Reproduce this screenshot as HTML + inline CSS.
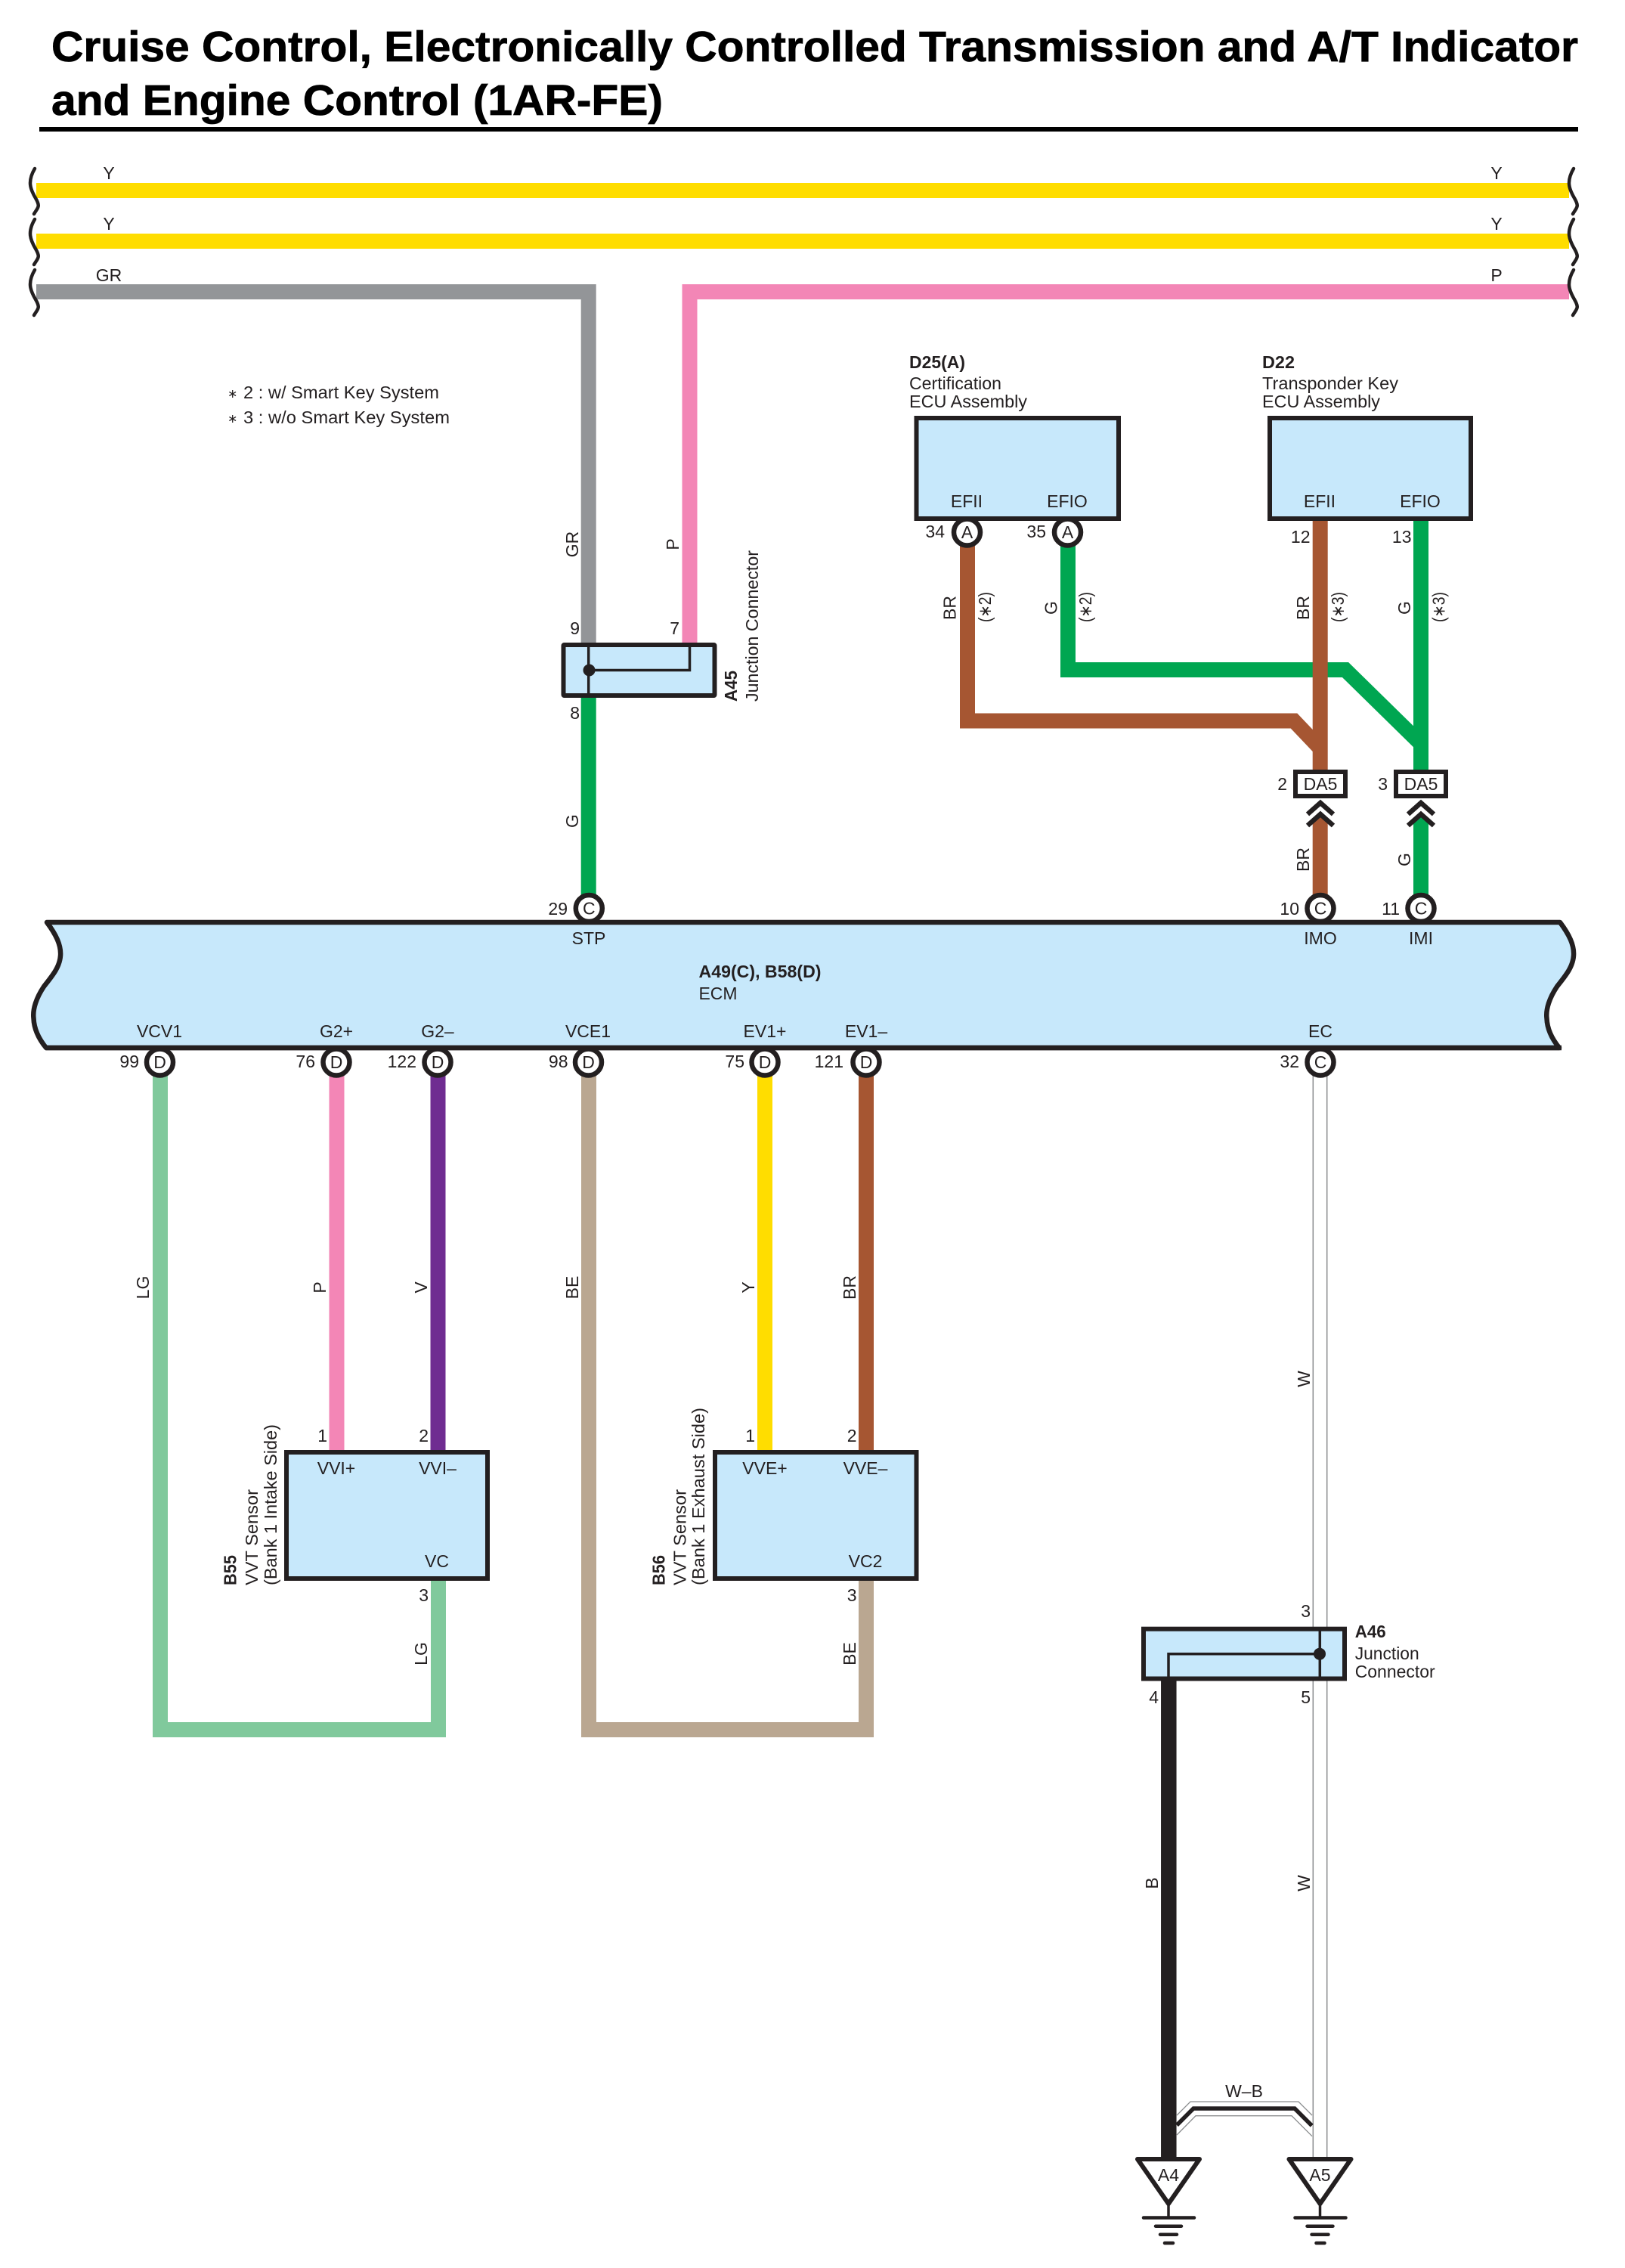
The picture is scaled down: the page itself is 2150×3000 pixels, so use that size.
<!DOCTYPE html>
<html><head><meta charset="utf-8"><title>Cruise Control Wiring</title>
<style>
html,body{margin:0;padding:0;background:#fff;width:2150px;height:3000px;overflow:hidden}
svg{display:block}
text{font-family:"Liberation Sans",Arial,sans-serif;font-size:23px;fill:#231f20}
.b{font-weight:bold}
.m{text-anchor:middle}
.e{text-anchor:end}
.w{fill:none;stroke-width:20;stroke-linejoin:miter}
.k{fill:none;stroke:#231f20;stroke-linecap:round}
.box{fill:#c7e8fb;stroke:#231f20;stroke-width:6}
.c{fill:#fff;stroke:#231f20;stroke-width:6.5}
</style></head><body>
<svg xmlns="http://www.w3.org/2000/svg" width="2150" height="3000" viewBox="0 0 2150 3000">
<rect width="2150" height="3000" fill="#fff"/>
<!-- title -->
<text x="68" y="81" class="b" style="font-size:57px;fill:#000;stroke:#000;stroke-width:.8" textLength="2020" lengthAdjust="spacingAndGlyphs">Cruise Control, Electronically Controlled Transmission and A/T Indicator</text>
<text x="68" y="152" class="b" style="font-size:57px;fill:#000;stroke:#000;stroke-width:.8" textLength="809" lengthAdjust="spacingAndGlyphs">and Engine Control (1AR-FE)</text>
<rect x="52" y="168" width="2036" height="6" fill="#000"/>

<!-- top wires -->
<path class="w" stroke="#ffdd00" d="M48 252H2076"/>
<path class="w" stroke="#ffdd00" d="M48 319H2076"/>
<path class="w" stroke="#939598" d="M48 386H778.7V853"/>
<path class="w" stroke="#f386b6" d="M2076 386H912.5V853"/>

<!-- break marks -->
<g class="k" stroke-width="4.5">
<path d="M46 223C36 240 40 250 47 262C54 274 50 274 45 283"/>
<path d="M46 290C36 307 40 317 47 329C54 341 50 341 45 350"/>
<path d="M46 357C36 374 40 384 47 396C54 408 50 408 45 417"/>
<path d="M2082 223C2072 240 2076 250 2083 262C2090 274 2086 274 2081 283"/>
<path d="M2082 290C2072 307 2076 317 2083 329C2090 341 2086 341 2081 350"/>
<path d="M2082 357C2072 374 2076 384 2083 396C2090 408 2086 408 2081 417"/>
</g>

<text x="144" y="237" class="m">Y</text>
<text x="144" y="304" class="m">Y</text>
<text x="144" y="372" class="m">GR</text>
<text x="1980" y="237" class="m">Y</text>
<text x="1980" y="304" class="m">Y</text>
<text x="1980" y="372" class="m">P</text>

<text x="301" y="526" style="font-size:16px">∗</text>
<text x="322" y="527" textLength="259" lengthAdjust="spacingAndGlyphs">2 : w/ Smart Key System</text>
<text x="301" y="559" style="font-size:16px">∗</text>
<text x="322" y="560" textLength="273" lengthAdjust="spacingAndGlyphs">3 : w/o Smart Key System</text>

<!-- A45 junction -->
<path class="w" stroke="#00a651" d="M778.7 920V1185"/>
<rect class="box" x="745.5" y="853" width="200" height="67" rx="1"/>
<path fill="none" stroke="#231f20" stroke-width="3.5" d="M778.7 853V920M778.7 886.5H912.5V853"/>
<circle cx="779.5" cy="886.5" r="8" fill="#231f20"/>
<text x="767" y="839" class="e">9</text>
<text x="899" y="839" class="e">7</text>
<text x="767" y="951" class="e">8</text>
<text transform="translate(765,720) rotate(-90)" class="m">GR</text>
<text transform="translate(898,720) rotate(-90)" class="m">P</text>
<text transform="translate(765,1086) rotate(-90)" class="m">G</text>
<text transform="translate(975,928) rotate(-90)" class="b" textLength="41" lengthAdjust="spacingAndGlyphs">A45</text>
<text transform="translate(1003,928) rotate(-90)" textLength="200" lengthAdjust="spacingAndGlyphs">Junction Connector</text>

<!-- top right ECUs -->
<text x="1203" y="487" class="b" textLength="74" lengthAdjust="spacingAndGlyphs">D25(A)</text>
<text x="1203" y="515" textLength="122" lengthAdjust="spacingAndGlyphs">Certification</text>
<text x="1203" y="539" textLength="156" lengthAdjust="spacingAndGlyphs">ECU Assembly</text>
<text x="1670" y="487" class="b" textLength="43" lengthAdjust="spacingAndGlyphs">D22</text>
<text x="1670" y="515" textLength="180" lengthAdjust="spacingAndGlyphs">Transponder Key</text>
<text x="1670" y="539" textLength="156" lengthAdjust="spacingAndGlyphs">ECU Assembly</text>

<!-- wires to DA5 -->
<path class="w" stroke="#00a651" d="M1413 722V886H1780L1880 984"/>
<path class="w" stroke="#00a651" d="M1880 688V1020"/>
<path class="w" stroke="#a65632" d="M1280 722V953.5H1712L1746.7 990"/>
<path class="w" stroke="#a65632" d="M1746.7 688V1020"/>
<path fill="#a65632" d="M1736.7 1086L1746.7 1077L1756.7 1086V1185H1736.7Z"/>
<path fill="#00a651" d="M1870 1086L1880 1077L1890 1086V1185H1870Z"/>

<rect class="box" x="1212.5" y="553" width="267.5" height="133"/>
<rect class="box" x="1680" y="553" width="266" height="133"/>
<text x="1279" y="671" class="m">EFII</text>
<text x="1412" y="671" class="m">EFIO</text>
<text x="1746" y="671" class="m">EFII</text>
<text x="1879" y="671" class="m">EFIO</text>
<circle class="c" cx="1279.5" cy="704" r="17.5"/><text x="1279.5" y="712" class="m">A</text>
<circle class="c" cx="1412.5" cy="704" r="17.5"/><text x="1412.5" y="712" class="m">A</text>
<text x="1250" y="711" class="e">34</text>
<text x="1384" y="711" class="e">35</text>
<text x="1733.5" y="718" class="e">12</text>
<text x="1867.5" y="718" class="e">13</text>

<text transform="translate(1264.6,804) rotate(-90)" class="m">BR</text>
<text transform="translate(1311,803) rotate(-90)" class="m" textLength="40" lengthAdjust="spacingAndGlyphs">(∗2)</text>
<text transform="translate(1398.6,804) rotate(-90)" class="m">G</text>
<text transform="translate(1444,803) rotate(-90)" class="m" textLength="40" lengthAdjust="spacingAndGlyphs">(∗2)</text>
<text transform="translate(1732,804) rotate(-90)" class="m">BR</text>
<text transform="translate(1778,803) rotate(-90)" class="m" textLength="40" lengthAdjust="spacingAndGlyphs">(∗3)</text>
<text transform="translate(1866,804) rotate(-90)" class="m">G</text>
<text transform="translate(1911.5,803) rotate(-90)" class="m" textLength="40" lengthAdjust="spacingAndGlyphs">(∗3)</text>
<text transform="translate(1732,1137) rotate(-90)" class="m">BR</text>
<text transform="translate(1866,1137) rotate(-90)" class="m">G</text>

<!-- DA5 connectors -->
<rect x="1714" y="1021" width="66" height="32" fill="#fff" stroke="#231f20" stroke-width="6"/>
<rect x="1847" y="1021" width="66" height="32" fill="#fff" stroke="#231f20" stroke-width="6"/>
<text x="1747" y="1045" class="m">DA5</text>
<text x="1880" y="1045" class="m">DA5</text>
<text x="1703" y="1045" class="e">2</text>
<text x="1836" y="1045" class="e">3</text>
<g fill="none" stroke="#231f20" stroke-width="6.5">
<path d="M1730 1077L1747 1062L1764 1077"/>
<path d="M1730 1092L1747 1077L1764 1092"/>
<path d="M1863 1077L1880 1062L1897 1077"/>
<path d="M1863 1092L1880 1077L1897 1092"/>
</g>

<!-- ECM -->
<circle class="c" cx="779.3" cy="1201.5" r="17.5"/>
<circle class="c" cx="1747" cy="1201.5" r="17.5"/>
<circle class="c" cx="1880" cy="1201.5" r="17.5"/>
<text x="779.3" y="1209.5" class="m">C</text>
<text x="1747" y="1209.5" class="m">C</text>
<text x="1880" y="1209.5" class="m">C</text>
<text x="751" y="1210" class="e">29</text>
<text x="1719" y="1210" class="e">10</text>
<text x="1852" y="1210" class="e">11</text>

<!-- lower wires -->
<path class="w" stroke="#80c99c" d="M212 1420V2288H580V2085"/>
<path class="w" stroke="#f386b6" d="M445.5 1420V1925"/>
<path class="w" stroke="#6f2c91" d="M579.5 1420V1925"/>
<path class="w" stroke="#baa791" d="M779 1420V2288H1146V2085"/>
<path class="w" stroke="#ffdd00" d="M1012 1420V1925"/>
<path class="w" stroke="#a65632" d="M1146 1420V1925"/>
<path fill="none" stroke="#8a8c8e" stroke-width="1.5" d="M1737.3 1420V2155M1755.7 1420V2155M1737.3 2220V2855M1755.7 2220V2855"/>

<path d="M62 1220H2064C2076 1236 2083 1250 2082 1264C2081 1280 2070 1292 2060 1305C2050 1320 2045 1335 2046.5 1347C2047 1362 2054 1375 2063 1386H61C52 1375 45 1362 44.5 1347C43 1335 48 1320 58 1305C68 1292 79 1280 80 1264C81 1250 74 1236 62 1220Z" fill="#c7e8fb" stroke="#231f20" stroke-width="6.5" stroke-linejoin="round"/>
<text x="779" y="1249" class="m">STP</text>
<text x="1747" y="1249" class="m">IMO</text>
<text x="1880" y="1249" class="m">IMI</text>
<text x="924.5" y="1293" class="b" textLength="162" lengthAdjust="spacingAndGlyphs">A49(C), B58(D)</text>
<text x="924.5" y="1322" textLength="51" lengthAdjust="spacingAndGlyphs">ECM</text>
<text x="211" y="1372" class="m">VCV1</text>
<text x="445" y="1372" class="m">G2+</text>
<text x="579" y="1372" class="m">G2–</text>
<text x="778" y="1372" class="m">VCE1</text>
<text x="1012" y="1372" class="m">EV1+</text>
<text x="1146" y="1372" class="m">EV1–</text>
<text x="1747" y="1372" class="m">EC</text>

<g>
<circle class="c" cx="211.5" cy="1405" r="17.5"/><text x="211.5" y="1413" class="m">D</text>
<circle class="c" cx="445" cy="1405" r="17.5"/><text x="445" y="1413" class="m">D</text>
<circle class="c" cx="579" cy="1405" r="17.5"/><text x="579" y="1413" class="m">D</text>
<circle class="c" cx="778.5" cy="1405" r="17.5"/><text x="778.5" y="1413" class="m">D</text>
<circle class="c" cx="1012" cy="1405" r="17.5"/><text x="1012" y="1413" class="m">D</text>
<circle class="c" cx="1146" cy="1405" r="17.5"/><text x="1146" y="1413" class="m">D</text>
<circle class="c" cx="1747" cy="1405" r="17.5"/><text x="1747" y="1413" class="m">C</text>
</g>
<path fill="none" stroke="#231f20" stroke-width="6.5" d="M60 1386H2066"/>
<text x="184" y="1412" class="e">99</text>
<text x="417" y="1412" class="e">76</text>
<text x="551" y="1412" class="e">122</text>
<text x="751.5" y="1412" class="e">98</text>
<text x="985" y="1412" class="e">75</text>
<text x="1116" y="1412" class="e">121</text>
<text x="1719" y="1412" class="e">32</text>

<text transform="translate(197,1703) rotate(-90)" class="m">LG</text>
<text transform="translate(431,1703) rotate(-90)" class="m">P</text>
<text transform="translate(565,1703) rotate(-90)" class="m">V</text>
<text transform="translate(765,1703) rotate(-90)" class="m">BE</text>
<text transform="translate(998,1703) rotate(-90)" class="m">Y</text>
<text transform="translate(1132,1703) rotate(-90)" class="m">BR</text>
<text transform="translate(1733,1824) rotate(-90)" class="m">W</text>

<!-- sensors -->
<rect class="box" x="379" y="1921" width="266" height="167"/>
<rect class="box" x="946" y="1921" width="266.5" height="167"/>
<text x="445" y="1950" class="m">VVI+</text>
<text x="579" y="1950" class="m">VVI–</text>
<text x="578" y="2073" class="m">VC</text>
<text x="1012" y="1950" class="m">VVE+</text>
<text x="1145" y="1950" class="m">VVE–</text>
<text x="1145" y="2073" class="m">VC2</text>
<text x="433" y="1907" class="e">1</text>
<text x="567" y="1907" class="e">2</text>
<text x="567" y="2118" class="e">3</text>
<text x="999" y="1907" class="e">1</text>
<text x="1133.5" y="1907" class="e">2</text>
<text x="1133.5" y="2118" class="e">3</text>
<text transform="translate(565,2187.5) rotate(-90)" class="m">LG</text>
<text transform="translate(1132,2187.5) rotate(-90)" class="m">BE</text>

<text transform="translate(312.7,2097) rotate(-90)" class="b" textLength="40" lengthAdjust="spacingAndGlyphs">B55</text>
<text transform="translate(340.8,2097) rotate(-90)" textLength="127" lengthAdjust="spacingAndGlyphs">VVT Sensor</text>
<text transform="translate(366,2097) rotate(-90)" textLength="213" lengthAdjust="spacingAndGlyphs">(Bank 1 Intake Side)</text>
<text transform="translate(879.6,2097) rotate(-90)" class="b" textLength="40" lengthAdjust="spacingAndGlyphs">B56</text>
<text transform="translate(907.6,2097) rotate(-90)" textLength="127" lengthAdjust="spacingAndGlyphs">VVT Sensor</text>
<text transform="translate(932,2097) rotate(-90)" textLength="235" lengthAdjust="spacingAndGlyphs">(Bank 1 Exhaust Side)</text>

<!-- A46 -->
<path class="w" stroke="#231f20" style="stroke-width:20.5" d="M1546.3 2220V2856"/>
<rect class="box" x="1513" y="2154.7" width="266" height="65.8"/>
<path fill="none" stroke="#231f20" stroke-width="3.5" d="M1746.3 2154.7V2220.5M1746.3 2187.7H1546V2220.5"/>
<circle cx="1746" cy="2187.7" r="8" fill="#231f20"/>
<text x="1792.7" y="2166" class="b" textLength="41" lengthAdjust="spacingAndGlyphs">A46</text>
<text x="1792.7" y="2195" textLength="85" lengthAdjust="spacingAndGlyphs">Junction</text>
<text x="1792.7" y="2219" textLength="106" lengthAdjust="spacingAndGlyphs">Connector</text>
<text x="1734" y="2139" class="e">3</text>
<text x="1533" y="2253" class="e">4</text>
<text x="1734" y="2253" class="e">5</text>
<text transform="translate(1532,2491) rotate(-90)" class="m">B</text>
<text transform="translate(1733,2491) rotate(-90)" class="m">W</text>

<!-- W-B -->
<text x="1646" y="2774" class="m">W–B</text>
<path fill="none" stroke="#8a8c8e" stroke-width="1.3" d="M1557 2798L1575 2780H1718L1736 2798"/>
<path fill="none" stroke="#8a8c8e" stroke-width="1.3" d="M1557 2824L1582 2798.7H1709L1736 2825.7"/>
<path fill="none" stroke="#231f20" stroke-width="5.5" d="M1557 2811L1579 2789H1713L1735.7 2811.7"/>

<!-- grounds -->
<g fill="#fff" stroke="#231f20" stroke-width="6" stroke-linejoin="round">
<path d="M1505 2856H1587L1546 2915Z"/>
<path d="M1705.5 2856H1787.5L1746.5 2915Z"/>
</g>
<text x="1546" y="2885" class="m">A4</text>
<text x="1746.5" y="2885" class="m">A5</text>
<g class="k">
<path stroke-width="3.5" d="M1546 2915V2933M1746.5 2915V2933"/>
<path stroke-width="4.5" d="M1513 2933.5H1580M1529 2944.7H1563M1535 2955.7H1557M1541 2967H1552"/>
<path stroke-width="4.5" d="M1713.5 2933.5H1780.5M1729.5 2944.7H1763.5M1735.5 2955.7H1757.5M1741.5 2967H1752.5"/>
</g>
</svg>
</body></html>
